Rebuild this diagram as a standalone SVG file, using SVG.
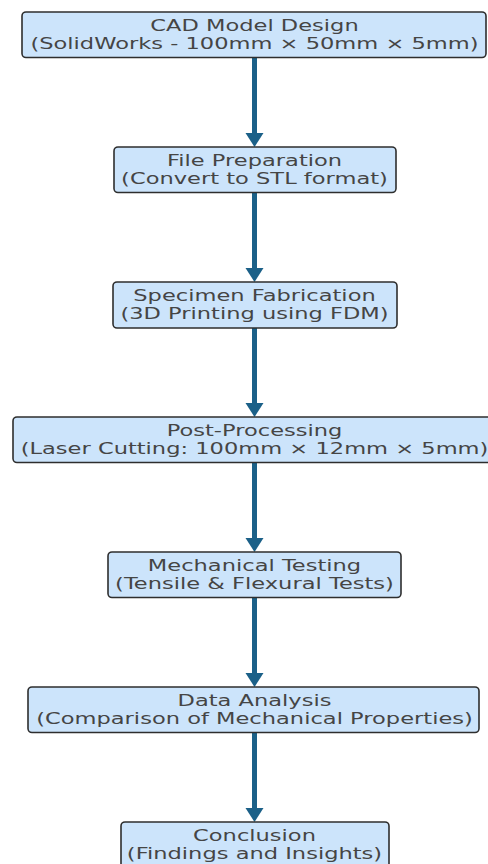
<svg xmlns="http://www.w3.org/2000/svg" width="488" height="864" viewBox="0 0 488 864">
<defs>
<style>
.box{fill:#cce4fb;stroke:#2e2e2e;stroke-width:1.6}
.t{font-family:"DejaVu Sans","Liberation Sans",sans-serif;font-size:16px;fill:#454545;text-anchor:middle}
.shaft{stroke:#1b6088;stroke-width:5;fill:none}
.head{fill:#1b6088}
</style>
</defs>
<rect width="488" height="864" fill="#ffffff"/>
<g id="connectors">
<line class="shaft" x1="254.5" y1="57.5" x2="254.5" y2="136"/>
<polygon class="head" points="245.5,133 263.5,133 254.5,147"/>
<line class="shaft" x1="254.5" y1="192.5" x2="254.5" y2="271"/>
<polygon class="head" points="245.5,268 263.5,268 254.5,282"/>
<line class="shaft" x1="254.5" y1="328" x2="254.5" y2="406"/>
<polygon class="head" points="245.5,403 263.5,403 254.5,417"/>
<line class="shaft" x1="254.5" y1="462.5" x2="254.5" y2="541"/>
<polygon class="head" points="245.5,538 263.5,538 254.5,552"/>
<line class="shaft" x1="254.5" y1="597.5" x2="254.5" y2="676"/>
<polygon class="head" points="245.5,673 263.5,673 254.5,687"/>
<line class="shaft" x1="254.5" y1="732.5" x2="254.5" y2="811"/>
<polygon class="head" points="245.5,808 263.5,808 254.5,822"/>
</g>
<g id="n1">
<rect class="box" x="22" y="12" width="464" height="45.5" rx="4"/>
<text class="t" transform="translate(254.5,30.5) scale(1.41,1)">CAD Model Design</text>
<text class="t" transform="translate(254.5,49.3) scale(1.41,1)">(SolidWorks - 100mm × 50mm × 5mm)</text>
</g>
<g id="n2">
<rect class="box" x="114" y="147" width="282" height="45.5" rx="4"/>
<text class="t" transform="translate(254.5,165.5) scale(1.41,1)">File Preparation</text>
<text class="t" transform="translate(254.5,184.3) scale(1.41,1)">(Convert to STL format)</text>
</g>
<g id="n3">
<rect class="box" x="113" y="282" width="284" height="46" rx="4"/>
<text class="t" transform="translate(254.5,300.5) scale(1.41,1)">Specimen Fabrication</text>
<text class="t" transform="translate(254.5,319.3) scale(1.41,1)">(3D Printing using FDM)</text>
</g>
<g id="n4">
<rect class="box" x="13" y="417" width="483" height="45.5" rx="4"/>
<text class="t" transform="translate(254.5,435.5) scale(1.41,1)">Post-Processing</text>
<text class="t" transform="translate(254.5,454.3) scale(1.41,1)">(Laser Cutting: 100mm × 12mm × 5mm)</text>
</g>
<g id="n5">
<rect class="box" x="108" y="552" width="293" height="45.5" rx="4"/>
<text class="t" transform="translate(254.5,570.5) scale(1.41,1)">Mechanical Testing</text>
<text class="t" transform="translate(254.5,589.3) scale(1.41,1)">(Tensile &amp; Flexural Tests)</text>
</g>
<g id="n6">
<rect class="box" x="28" y="687" width="451" height="45.5" rx="4"/>
<text class="t" transform="translate(254.5,705.5) scale(1.41,1)">Data Analysis</text>
<text class="t" transform="translate(254.5,724.3) scale(1.41,1)">(Comparison of Mechanical Properties)</text>
</g>
<g id="n7">
<rect class="box" x="121" y="822" width="268" height="45.5" rx="4"/>
<text class="t" transform="translate(254.5,840.5) scale(1.41,1)">Conclusion</text>
<text class="t" transform="translate(254.5,859.3) scale(1.41,1)">(Findings and Insights)</text>
</g>
</svg>
